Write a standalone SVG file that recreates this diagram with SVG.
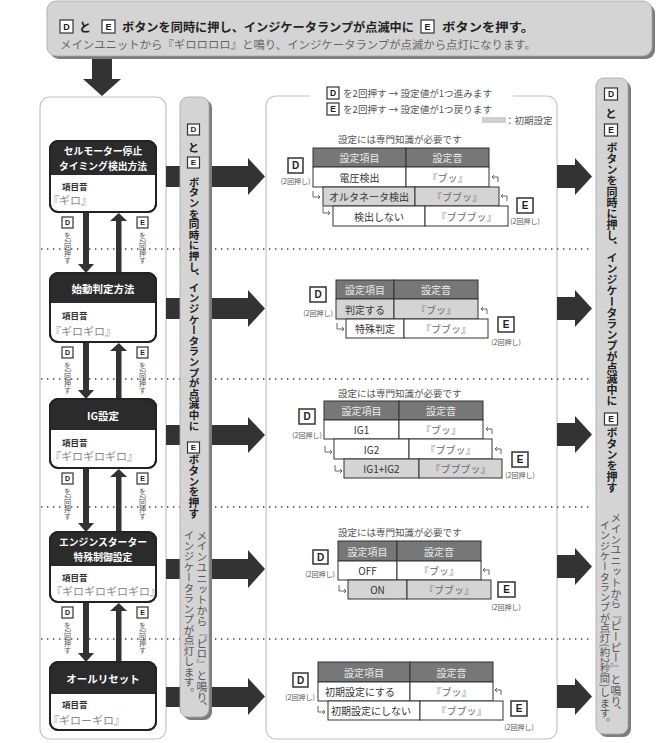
<svg xmlns="http://www.w3.org/2000/svg" width="669" height="743" viewBox="0 0 669 743">
<style>
text{font-family:'Noto Sans CJK JP','Noto Sans',sans-serif;dominant-baseline:central}
.lt{font-family:'Liberation Sans','Noto Sans',sans-serif;font-weight:bold;text-anchor:middle;fill:#222}
.kb{fill:#fff;stroke:#333;stroke-width:1.2}
.kb2{fill:#fff;stroke:#333;stroke-width:1.5}
.hd{fill:#fff;font-weight:bold;font-size:10.5px;text-anchor:middle}
.hd2{fill:#fff;font-weight:bold;font-size:9.8px;text-anchor:middle}
.lbl{fill:#333;font-size:8.5px;font-weight:bold}
.snd{fill:#8a8a8a;font-size:11px}
.v{writing-mode:vertical-rl}
.dot{stroke:#444;stroke-width:1.4;stroke-dasharray:1.4 4.6;fill:none}
.thd{fill:#777;stroke:#333;stroke-width:1}
.tw{fill:#fff;stroke:#333;stroke-width:1}
.tg{fill:#d4d4d4;stroke:#333;stroke-width:1}
.th{fill:#ececec;font-size:10px;text-anchor:middle}
.tt{fill:#333;font-size:10px;text-anchor:middle}
.ts{fill:#666;font-size:10px;text-anchor:middle}
.sm{fill:#555;font-size:7px;text-anchor:middle}
.hk{fill:none;stroke:#555;stroke-width:0.9}
.arr{fill:#333}
.nb{fill:#fff;stroke:#222;stroke-width:2}
.nh{fill:#2b2b2b}
.pn{fill:#fff;stroke:#c4c4c4;stroke-width:1.2}
.bn{fill:#d4d4d4;stroke:#a5a5a5;stroke-width:0.8}
.bs{fill:#7d7d7d}
.vb{font-weight:bold;fill:#222}
.vg{fill:#555}
.leg{fill:#555;font-size:9.5px}
</style>

<!-- panels -->
<g id="left-panel"><rect class="pn" x="40" y="97" width="126" height="642" rx="10"/></g>
<g id="settings-panel">
<rect class="pn" x="266" y="96" width="291" height="643" rx="10"/>
<rect x="310" y="90" width="203" height="12" fill="#fff"/>
</g>

<!-- dotted separators -->
<g id="separators">
<line class="dot" x1="41" y1="249" x2="593" y2="249"/>
<line class="dot" x1="41" y1="379" x2="593" y2="379"/>
<line class="dot" x1="41" y1="507" x2="593" y2="507"/>
<line class="dot" x1="41" y1="639" x2="593" y2="639"/>
</g>

<!-- connectors -->
<g id="connectors">
<polygon class="arr" points="166,166 248,166 248,158 265,176.5 248,195 248,187 166,187"/>
<polygon class="arr" points="166,298 248,298 248,290 265,308.5 248,327 248,319 166,319"/>
<polygon class="arr" points="166,425 248,425 248,417 265,435 248,453 248,445 166,445"/>
<polygon class="arr" points="166,559 248,559 248,550 265,569 248,588 248,579 166,579"/>
<polygon class="arr" points="166,687 248,687 248,678 265,696.5 248,715 248,707 166,707"/>
<polygon class="arr" points="557,165 575,165 575,158 592,176.5 575,195 575,188 557,188"/>
<polygon class="arr" points="557,297 575,297 575,290 592,308.5 575,327 575,320 557,320"/>
<polygon class="arr" points="557,423 575,423 575,416 592,434.5 575,453 575,446 557,446"/>
<polygon class="arr" points="557,555 575,555 575,548 592,566.5 575,585 575,578 557,578"/>
<polygon class="arr" points="557,685 575,685 575,678 592,696.5 575,715 575,708 557,708"/>
<polygon class="arr" points="92,59 112,59 112,79 121,79 102,96 83,79 92,79"/>
<!-- node arrows -->
<rect class="arr" x="83" y="212" width="6" height="53"/><polygon class="arr" points="78,264 94,264 86,273"/>
<rect class="arr" x="116" y="219" width="5.5" height="54"/><polygon class="arr" points="110,221 127,221 118.75,213"/>
<rect class="arr" x="83" y="342" width="6" height="48"/><polygon class="arr" points="78,390 94,390 86,399"/>
<rect class="arr" x="116" y="349" width="5.5" height="50"/><polygon class="arr" points="110,351 127,351 118.75,343"/>
<rect class="arr" x="83" y="468" width="6" height="56"/><polygon class="arr" points="78,523 94,523 86,532"/>
<rect class="arr" x="116" y="475" width="5.5" height="57"/><polygon class="arr" points="110,477 127,477 118.75,469"/>
<rect class="arr" x="83" y="602" width="6" height="52"/><polygon class="arr" points="78,653 94,653 86,662"/>
<rect class="arr" x="116" y="609" width="5.5" height="53"/><polygon class="arr" points="110,611 127,611 118.75,603"/>
</g>

<!-- top banner -->
<g id="top-banner">
<rect class="bs" x="50" y="4" width="605" height="55" rx="9"/>
<rect class="bn" x="47" y="1" width="605" height="55" rx="9"/>
<rect class="kb" x="60" y="20" width="13" height="13"/><text class="lt" x="66.5" y="26.8" font-size="9">D</text>
<text x="85" y="26.5" font-size="12" font-weight="bold" fill="#222" text-anchor="middle">と</text>
<rect class="kb" x="102" y="20" width="13" height="13"/><text class="lt" x="108.5" y="26.8" font-size="9">E</text>
<text x="122" y="26.5" font-size="12" font-weight="bold" fill="#222" textLength="292" lengthAdjust="spacingAndGlyphs">ボタンを同時に押し、インジケータランプが点滅中に</text>
<rect class="kb" x="421" y="20" width="13" height="13"/><text class="lt" x="427.5" y="26.8" font-size="9">E</text>
<text x="442" y="26.5" font-size="12" font-weight="bold" fill="#222" textLength="92" lengthAdjust="spacingAndGlyphs">ボタンを押す。</text>
<text x="60" y="44" font-size="11" fill="#666" textLength="476" lengthAdjust="spacingAndGlyphs">メインユニットから『ギロロロロ』と鳴り、インジケータランプが点滅から点灯になります。</text>
</g>

<!-- middle banner -->
<g id="mid-banner">
<rect class="bs" x="183" y="100" width="29" height="620" rx="8"/>
<rect class="bn" x="180" y="97" width="29" height="620" rx="8"/>
<rect class="kb" x="187.5" y="124" width="12" height="11"/><text class="lt" x="193.5" y="129.8" font-size="8">D</text>
<text x="193.5" y="147" font-size="11" class="vb" text-anchor="middle">と</text>
<rect class="kb" x="187.5" y="157" width="12" height="11"/><text class="lt" x="193.5" y="162.8" font-size="8">E</text>
<text class="v vb" x="194" y="176.5" font-size="10.6">ボタンを同時に押し、インジケータランプが点滅中に</text>
<rect class="kb" x="187.5" y="442" width="12" height="11"/><text class="lt" x="193.5" y="447.8" font-size="8">E</text>
<text class="v vb" x="194" y="454.5" font-size="10.8">ボタンを押す</text>
<text class="v vg" x="202" y="530" font-size="10.8">メインユニットから『ピロ』と鳴り、</text>
<text class="v vg" x="189" y="530" font-size="10.5">インジケータランプが点灯します。</text>
</g>

<!-- right banner -->
<g id="right-banner">
<rect class="bs" x="599" y="81" width="32" height="656" rx="8"/>
<rect class="bn" x="596" y="78" width="32" height="656" rx="8"/>
<rect class="kb" x="604.5" y="88" width="13" height="12"/><text class="lt" x="611" y="94.3" font-size="8.5">D</text>
<text x="611" y="113" font-size="11.5" class="vb" text-anchor="middle">と</text>
<rect class="kb" x="604.5" y="124" width="13" height="12"/><text class="lt" x="611" y="130.3" font-size="8.5">E</text>
<text class="v vb" x="612" y="142.5" font-size="11">ボタンを同時に押し、インジケータランプが点滅中に</text>
<rect class="kb" x="604.5" y="413" width="13" height="12"/><text class="lt" x="611" y="419.3" font-size="8.5">E</text>
<text class="v vb" x="612" y="427.5" font-size="11">ボタンを押す</text>
<text class="v vg" x="616" y="512.5" font-size="10.8">メインユニットから『ピーピー』と鳴り、</text>
<text class="v vg" x="605" y="520" font-size="10.3">インジケータランプが点灯(約2秒間)します。</text>
</g>

<!-- nodes -->
<g id="node-1">
<rect class="nb" x="50" y="141" width="106" height="71" rx="8"/>
<path class="nh" d="M50,175 V149 A8,8 0 0 1 58,141 H148 A8,8 0 0 1 156,149 V175 Z"/>
<rect x="50" y="141" width="106" height="71" rx="8" fill="none" stroke="#222" stroke-width="2"/>
<text class="hd2" x="103" y="151">セルモーター停止</text>
<text class="hd2" x="103" y="165.5">タイミング検出方法</text>
<text class="lbl" x="62" y="186">項目音</text>
<text class="snd" x="48" y="200">『ギロ』</text>
</g>
<g id="node-2">
<rect class="nb" x="50" y="273" width="106" height="69" rx="8"/>
<path class="nh" d="M50,303 V281 A8,8 0 0 1 58,273 H148 A8,8 0 0 1 156,281 V303 Z"/>
<rect x="50" y="273" width="106" height="69" rx="8" fill="none" stroke="#222" stroke-width="2"/>
<text class="hd" x="103" y="288" font-size="11">始動判定方法</text>
<text class="lbl" x="62" y="315">項目音</text>
<text class="snd" x="50" y="331">『ギロギロ』</text>
</g>
<g id="node-3">
<rect class="nb" x="50" y="399" width="106" height="69" rx="8"/>
<path class="nh" d="M50,430 V407 A8,8 0 0 1 58,399 H148 A8,8 0 0 1 156,407 V430 Z"/>
<rect x="50" y="399" width="106" height="69" rx="8" fill="none" stroke="#222" stroke-width="2"/>
<text class="hd" x="103" y="415" font-size="11">IG設定</text>
<text class="lbl" x="62" y="442">項目音</text>
<text class="snd" x="50" y="456">『ギロギロギロ』</text>
</g>
<g id="node-4">
<rect class="nb" x="50" y="532" width="106" height="70" rx="8"/>
<path class="nh" d="M50,566 V540 A8,8 0 0 1 58,532 H148 A8,8 0 0 1 156,540 V566 Z"/>
<rect x="50" y="532" width="106" height="70" rx="8" fill="none" stroke="#222" stroke-width="2"/>
<text class="hd2" x="103" y="542">エンジンスターター</text>
<text class="hd2" x="103" y="556.5">特殊制御設定</text>
<text class="lbl" x="62" y="577">項目音</text>
<text class="snd" x="51" y="591" font-size="10">『ギロギロギロギロ』</text>
</g>
<g id="node-5">
<rect class="nb" x="50" y="662" width="106" height="68" rx="8"/>
<path class="nh" d="M50,694 V670 A8,8 0 0 1 58,662 H148 A8,8 0 0 1 156,670 V694 Z"/>
<rect x="50" y="662" width="106" height="68" rx="8" fill="none" stroke="#222" stroke-width="2"/>
<text class="hd" x="103" y="678" font-size="11">オールリセット</text>
<text class="lbl" x="62" y="704">項目音</text>
<text class="snd" x="48" y="720">『ギローギロ』</text>
</g>

<!-- D/E labels between nodes -->
<g id="step-labels">
<rect class="kb" x="62" y="217" width="11" height="11"/><text class="lt" x="67.5" y="222.8" font-size="7">D</text>
<rect class="kb" x="137" y="217" width="11" height="11"/><text class="lt" x="142.5" y="222.8" font-size="7">E</text>
<text class="v sm" x="67.5" y="232" style="text-anchor:start" font-size="6.6">を2回押す</text>
<text class="v sm" x="142.5" y="232" style="text-anchor:start" font-size="6.6">を2回押す</text>
<rect class="kb" x="62" y="347" width="11" height="11"/><text class="lt" x="67.5" y="352.8" font-size="7">D</text>
<rect class="kb" x="137" y="347" width="11" height="11"/><text class="lt" x="142.5" y="352.8" font-size="7">E</text>
<text class="v sm" x="67.5" y="362" style="text-anchor:start" font-size="6.6">を2回押す</text>
<text class="v sm" x="142.5" y="362" style="text-anchor:start" font-size="6.6">を2回押す</text>
<rect class="kb" x="62" y="473" width="11" height="11"/><text class="lt" x="67.5" y="478.8" font-size="7">D</text>
<rect class="kb" x="137" y="473" width="11" height="11"/><text class="lt" x="142.5" y="478.8" font-size="7">E</text>
<text class="v sm" x="67.5" y="488" style="text-anchor:start" font-size="6.6">を2回押す</text>
<text class="v sm" x="142.5" y="488" style="text-anchor:start" font-size="6.6">を2回押す</text>
<rect class="kb" x="62" y="607" width="11" height="11"/><text class="lt" x="67.5" y="612.8" font-size="7">D</text>
<rect class="kb" x="137" y="607" width="11" height="11"/><text class="lt" x="142.5" y="612.8" font-size="7">E</text>
<text class="v sm" x="67.5" y="622" style="text-anchor:start" font-size="6.6">を2回押す</text>
<text class="v sm" x="142.5" y="622" style="text-anchor:start" font-size="6.6">を2回押す</text>
</g>

<!-- legend -->
<g id="legend">
<rect class="kb" x="327" y="87" width="12" height="12"/><text class="lt" x="333" y="93.3" font-size="8.5">D</text>
<text class="leg" x="343" y="93" textLength="149" lengthAdjust="spacingAndGlyphs">を2回押す → 設定値が1つ進みます</text>
<rect class="kb" x="327" y="103" width="12" height="12"/><text class="lt" x="333" y="109.3" font-size="8.5">E</text>
<text class="leg" x="343" y="109" textLength="149" lengthAdjust="spacingAndGlyphs">を2回押す → 設定値が1つ戻ります</text>
<rect x="482" y="117" width="24" height="6" fill="#d0d0d0"/>
<text class="leg" x="505" y="120" font-size="8">：初期設定</text>
</g>

<!-- table 1 -->
<g id="table-1">
<text class="leg" x="338" y="139" font-size="9.2">設定には専門知識が必要です</text>
<rect class="thd" x="313" y="148" width="93" height="19"/><rect class="thd" x="406" y="148" width="83" height="19"/>
<text class="th" x="359.5" y="157.5">設定項目</text><text class="th" x="447.5" y="157.5">設定音</text>
<rect class="tw" x="313" y="167" width="93" height="20"/><rect class="tw" x="406" y="167" width="83" height="20"/>
<text class="tt" x="359.5" y="177">電圧検出</text><text class="ts" x="447.5" y="177">『ブッ』</text>
<rect class="tg" x="323" y="187" width="92" height="19"/><rect class="tg" x="415" y="187" width="84" height="19"/>
<text class="tt" x="369" y="196.5">オルタネータ検出</text><text class="ts" x="457" y="196.5">『ブブッ』</text>
<rect class="tw" x="333" y="206" width="92" height="20"/><rect class="tw" x="425" y="206" width="83" height="20"/>
<text class="tt" x="379" y="216">検出しない</text><text class="ts" x="466.5" y="216">『ブブブッ』</text>
<path class="hk" d="M313,191 V197 H320 M318,195 L320,197 L318,199"/>
<path class="hk" d="M323,207 V213 H330 M328,211 L330,213 L328,215"/>
<path class="hk" d="M498,182 V177 H492 M494,175 L492,177 L494,179"/>
<path class="hk" d="M507,201 V196 H501 M503,194 L501,196 L503,198"/>
<rect class="kb2" x="288" y="158" width="15" height="15"/><text class="lt" x="295.5" y="165.8" font-size="10">D</text>
<text class="sm" x="295.5" y="181">(2回押し)</text>
<rect class="kb2" x="517" y="198" width="16" height="15"/><text class="lt" x="525" y="205.8" font-size="10">E</text>
<text class="sm" x="525" y="221">(2回押し)</text>
</g>

<!-- table 2 -->
<g id="table-2">
<rect class="thd" x="336" y="280" width="58" height="19"/><rect class="thd" x="394" y="280" width="84" height="19"/>
<text class="th" x="365" y="289.5">設定項目</text><text class="th" x="436" y="289.5">設定音</text>
<rect class="tg" x="336" y="299" width="58" height="20"/><rect class="tg" x="394" y="299" width="84" height="20"/>
<text class="tt" x="365" y="309">判定する</text><text class="ts" x="436" y="309">『ブッ』</text>
<rect class="tw" x="346" y="319" width="58" height="19"/><rect class="tw" x="404" y="319" width="84" height="19"/>
<text class="tt" x="375" y="328.5">特殊判定</text><text class="ts" x="446" y="328.5">『ブブッ』</text>
<path class="hk" d="M337,323 V329 H344 M342,327 L344,329 L342,331"/>
<path class="hk" d="M487,314 V309 H481 M483,307 L481,309 L483,311"/>
<rect class="kb2" x="310" y="287" width="16" height="15"/><text class="lt" x="318" y="294.8" font-size="10">D</text>
<text class="sm" x="318" y="313">(2回押し)</text>
<rect class="kb2" x="498" y="317" width="16" height="15"/><text class="lt" x="506" y="324.8" font-size="10">E</text>
<text class="sm" x="506" y="342">(2回押し)</text>
</g>

<!-- table 3 -->
<g id="table-3">
<text class="leg" x="338" y="393" font-size="9.2">設定には専門知識が必要です</text>
<rect class="thd" x="324" y="401" width="75" height="19"/><rect class="thd" x="399" y="401" width="84" height="19"/>
<text class="th" x="361.5" y="410.5">設定項目</text><text class="th" x="441" y="410.5">設定音</text>
<rect class="tw" x="324" y="420" width="75" height="19"/><rect class="tw" x="399" y="420" width="84" height="19"/>
<text class="tt" x="361.5" y="429.5">IG1</text><text class="ts" x="441" y="429.5">『ブッ』</text>
<rect class="tw" x="334" y="439" width="75" height="20"/><rect class="tw" x="409" y="439" width="83" height="20"/>
<text class="tt" x="371.5" y="449">IG2</text><text class="ts" x="450.5" y="449">『ブブッ』</text>
<rect class="tg" x="344" y="459" width="75" height="19"/><rect class="tg" x="419" y="459" width="83" height="19"/>
<text class="tt" x="381.5" y="468.5">IG1+IG2</text><text class="ts" x="460.5" y="468.5">『ブブブッ』</text>
<path class="hk" d="M325,446 V452 H332 M330,450 L332,452 L330,454"/>
<path class="hk" d="M335,465 V471 H342 M340,469 L342,471 L340,473"/>
<path class="hk" d="M492,434 V429 H486 M488,427 L486,429 L488,431"/>
<path class="hk" d="M501,454 V449 H495 M497,447 L495,449 L497,451"/>
<rect class="kb2" x="299" y="409" width="16" height="15"/><text class="lt" x="307" y="416.8" font-size="10">D</text>
<text class="sm" x="307" y="435">(2回押し)</text>
<rect class="kb2" x="512" y="452" width="16" height="15"/><text class="lt" x="520" y="459.8" font-size="10">E</text>
<text class="sm" x="520" y="475">(2回押し)</text>
</g>

<!-- table 4 -->
<g id="table-4">
<text class="leg" x="338" y="532" font-size="9.2">設定には専門知識が必要です</text>
<rect class="thd" x="338" y="541" width="59" height="20"/><rect class="thd" x="397" y="541" width="84" height="20"/>
<text class="th" x="367.5" y="551">設定項目</text><text class="th" x="439" y="551">設定音</text>
<rect class="tw" x="338" y="561" width="59" height="19"/><rect class="tw" x="397" y="561" width="84" height="19"/>
<text class="tt" x="367.5" y="570.5">OFF</text><text class="ts" x="439" y="570.5">『ブッ』</text>
<rect class="tg" x="348" y="580" width="59" height="19"/><rect class="tg" x="407" y="580" width="84" height="19"/>
<text class="tt" x="377.5" y="589.5">ON</text><text class="ts" x="449" y="589.5">『ブブッ』</text>
<path class="hk" d="M339,585 V591 H346 M344,589 L346,591 L344,593"/>
<path class="hk" d="M489,575 V570 H483 M485,568 L483,570 L485,572"/>
<rect class="kb2" x="313" y="550" width="15" height="14"/><text class="lt" x="320.5" y="557.3" font-size="10">D</text>
<text class="sm" x="320" y="574">(2回押し)</text>
<rect class="kb2" x="498" y="582" width="17" height="15"/><text class="lt" x="506.5" y="589.8" font-size="10">E</text>
<text class="sm" x="506" y="607">(2回押し)</text>
</g>

<!-- table 5 -->
<g id="table-5">
<rect class="thd" x="318" y="662" width="92" height="20"/><rect class="thd" x="410" y="662" width="83" height="20"/>
<text class="th" x="364" y="672">設定項目</text><text class="th" x="451.5" y="672">設定音</text>
<rect class="tw" x="318" y="682" width="92" height="19"/><rect class="tw" x="410" y="682" width="83" height="19"/>
<text class="tt" x="360" y="691.5">初期設定にする</text><text class="ts" x="451.5" y="691.5">『ブッ』</text>
<rect class="tw" x="328" y="701" width="92" height="19"/><rect class="tw" x="420" y="701" width="83" height="19"/>
<text class="tt" x="371" y="710.5" font-size="9.5">初期設定にしない</text><text class="ts" x="461.5" y="710.5">『ブブッ』</text>
<path class="hk" d="M318,706 V712 H325 M323,710 L325,712 L323,714"/>
<path class="hk" d="M501,695 V690 H495 M497,688 L495,690 L497,692"/>
<rect class="kb2" x="293" y="673" width="15" height="14"/><text class="lt" x="300.5" y="680.3" font-size="10">D</text>
<text class="sm" x="300" y="697">(2回押し)</text>
<rect class="kb2" x="511" y="701" width="16" height="15"/><text class="lt" x="519" y="708.8" font-size="10">E</text>
<text class="sm" x="519" y="727">(2回押し)</text>
</g>
</svg>
